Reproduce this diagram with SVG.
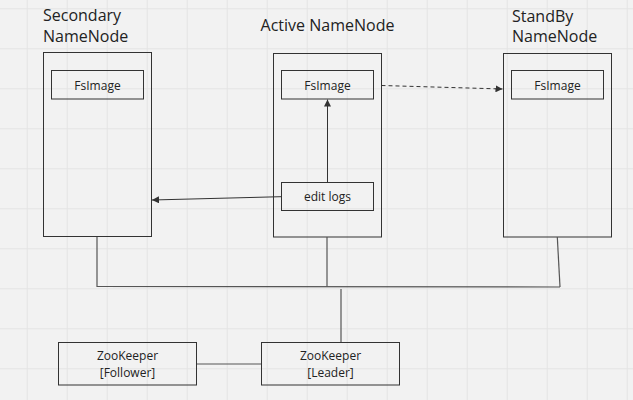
<svg xmlns="http://www.w3.org/2000/svg" width="633" height="400" viewBox="0 0 633 400">
<defs>
<pattern id="grid" x="26.7" y="8.3" width="40" height="40" patternUnits="userSpaceOnUse">
<path d="M0.5 0V40M0 0.5H40" stroke="#e4e4e4" stroke-width="1" fill="none"/>
</pattern>
<marker id="arr" viewBox="0 0 10 10" refX="10" refY="5" markerWidth="7" markerHeight="7" markerUnits="userSpaceOnUse" orient="auto">
<path d="M0 0L10 5L0 10z" fill="#333"/>
</marker>
</defs>
<style>
.box{fill:none;stroke:#333;stroke-width:1}
.title{font-family:"Open Sans","DejaVu Sans",sans-serif;font-size:16px;fill:#222}
.lbl{font-family:"Open Sans","DejaVu Sans",sans-serif;font-size:12px;fill:#222;text-anchor:middle}
.conn{fill:none;stroke:#555;stroke-width:1.2}
.link{fill:none;stroke:#333;stroke-width:1}
</style>
<rect width="633" height="400" fill="#f2f2f2"/>
<rect width="633" height="400" fill="url(#grid)"/>

<g id="secondary">
<text class="title" x="43" y="21">Secondary</text>
<text class="title" x="43" y="42">NameNode</text>
<rect class="box" x="43.5" y="52.5" width="108" height="184"/>
</g>
<g id="secondary-fsimage">
<rect class="box" x="51.5" y="70.5" width="92" height="28.5"/>
<text class="lbl" x="97.5" y="90">FsImage</text>
</g>

<g id="active">
<text class="title" x="327.5" y="31" text-anchor="middle">Active NameNode</text>
<rect class="box" x="273.5" y="53.5" width="108" height="183.5"/>
</g>
<g id="active-fsimage">
<rect class="box" x="281.5" y="70.5" width="92" height="28.5"/>
<text class="lbl" x="327.5" y="90">FsImage</text>
</g>
<g id="editlogs">
<rect class="box" x="281.5" y="182.5" width="92" height="28"/>
<text class="lbl" x="327.5" y="201">edit logs</text>
</g>

<g id="standby">
<text class="title" x="512" y="22">StandBy</text>
<text class="title" x="512" y="42">NameNode</text>
<rect class="box" x="503.5" y="53.5" width="108" height="183.5"/>
</g>
<g id="standby-fsimage">
<rect class="box" x="511.5" y="70.5" width="92" height="28.5"/>
<text class="lbl" x="557.5" y="90">FsImage</text>
</g>

<g id="zk-follower">
<rect class="box" x="58.5" y="342.5" width="138" height="42.5"/>
<text class="lbl" x="127.5" y="360">ZooKeeper</text>
<text class="lbl" x="127.5" y="377">[Follower]</text>
</g>
<g id="zk-leader">
<rect class="box" x="261.5" y="342.5" width="138" height="42.5"/>
<text class="lbl" x="330.5" y="360">ZooKeeper</text>
<text class="lbl" x="330.5" y="377">[Leader]</text>
</g>

<g id="connectors">
<line class="link" x1="381.5" y1="85.5" x2="502.5" y2="89" stroke-dasharray="4 3" marker-end="url(#arr)"/>
<line class="link" x1="327.5" y1="182.5" x2="327.5" y2="99.5" marker-end="url(#arr)"/>
<line class="link" x1="281" y1="196.7" x2="152" y2="200" marker-end="url(#arr)"/>
<polyline class="conn" points="97,237 97,286.5 560,287"/>
<line class="conn" x1="327" y1="237" x2="327" y2="286.5"/>
<line class="conn" x1="557.3" y1="237" x2="560" y2="287"/>
<line class="conn" x1="341" y1="289" x2="341" y2="342"/>
<line class="conn" x1="197" y1="364" x2="261" y2="364"/>
</g>
</svg>
